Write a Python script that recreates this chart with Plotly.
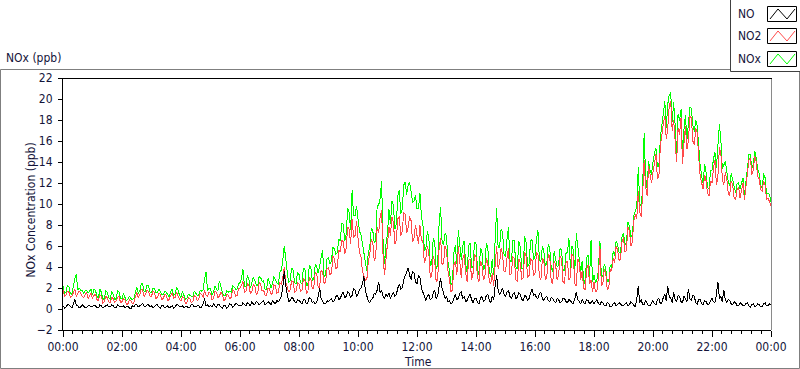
import plotly.graph_objects as go
import pandas as pd

# ---- data (3-minute samples, 00:00 .. 24:00) ----
times = pd.date_range("2000-01-01 00:00", periods=481, freq="3min")

no2 = [
 1.8,1.2,1.3,1.7,1.6,1.1,1.2,1.5,1.9,1.2,1.4,1.7,1.5,1.2,1.1,1.4,1.6,1.0,1.3,1.5,
 1.0,1.3,1.4,0.9,0.8,1.3,1.2,0.6,0.7,1.2,1.1,0.7,0.6,1.1,1.0,0.6,0.8,1.1,1.2,0.6,
 0.7,1.0,0.9,0.4,0.5,0.9,0.8,0.5,0.6,1.2,1.6,1.1,1.3,1.9,1.8,1.2,1.4,1.8,1.7,1.2,
 1.2,1.7,1.6,1.0,1.1,1.5,1.4,0.9,1.0,1.4,1.3,0.8,0.9,1.3,1.5,1.0,1.1,1.6,1.3,0.9,
 0.8,1.2,1.1,0.5,0.6,1.1,1.0,0.6,0.7,1.3,1.2,0.8,0.9,1.5,1.4,1.1,1.8,1.3,1.2,1.6,
 1.5,0.9,1.0,1.7,1.6,1.1,1.2,1.6,1.4,0.8,0.9,1.4,1.3,1.0,1.1,1.8,1.7,1.2,1.3,1.9,
 2.0,2.4,2.6,1.6,1.7,2.4,2.3,1.5,1.6,2.3,2.2,1.4,1.5,2.5,2.4,1.7,1.8,1.3,1.3,2.0,
 1.9,1.4,1.5,2.3,2.2,1.5,1.6,2.5,2.4,3.0,4.0,2.6,2.2,1.6,1.8,2.7,2.6,1.6,1.7,2.5,
 2.4,1.7,1.8,2.9,2.8,1.5,1.6,3.0,2.9,1.9,2.0,3.5,3.4,2.0,2.1,3.7,3.6,2.4,2.6,3.8,
 4.0,3.3,3.4,5.0,4.8,3.8,4.0,5.6,5.4,6.6,6.4,5.2,5.8,7.8,7.6,6.2,8.6,6.8,7.0,8.4,
 6.8,5.4,5.0,3.6,3.2,2.7,2.8,4.6,5.2,6.6,6.4,4.6,5.0,7.8,7.2,8.8,9.4,5.0,3.2,4.6,
 5.8,7.8,7.0,8.8,8.2,6.2,6.6,8.6,8.8,7.0,7.4,9.2,9.0,7.2,7.8,8.8,8.4,6.4,6.8,8.0,
 7.0,6.2,8.0,6.6,6.4,4.4,4.8,6.0,5.4,3.0,3.2,5.0,4.6,2.6,2.8,5.8,6.8,4.2,4.4,6.0,
 5.6,3.6,2.8,1.6,1.8,4.2,4.6,3.2,6.0,4.6,3.0,4.8,5.2,3.4,2.6,4.6,4.8,2.8,3.4,5.2,
 5.0,3.0,2.6,4.6,4.2,2.8,3.0,4.8,4.4,2.6,2.4,3.4,2.2,4.2,6.0,3.8,4.4,5.8,5.2,3.6,
 3.6,4.8,5.8,3.2,3.4,5.0,4.8,2.8,2.6,4.8,4.4,2.8,3.0,5.4,5.0,3.0,3.2,4.8,4.6,3.2,
 3.4,5.4,5.2,3.0,2.8,4.8,4.6,2.8,3.0,5.2,5.0,2.6,2.4,4.6,4.2,2.8,3.2,5.0,4.8,2.6,
 2.4,4.4,4.6,2.8,3.0,5.2,5.0,2.4,2.2,4.8,4.4,2.8,3.6,2.0,1.8,3.8,4.2,2.4,2.8,1.6,
 2.6,1.6,1.8,3.0,6.0,2.2,2.4,3.8,3.4,1.8,2.0,3.8,3.6,4.8,4.4,6.0,5.6,4.6,4.8,6.4,
 6.8,5.4,5.6,7.8,7.4,6.0,6.4,8.4,9.0,8.6,11.2,9.2,8.8,11.0,14.2,11.6,10.8,13.6,12.8,12.0,
 13.0,14.2,14.8,12.4,12.6,15.6,16.8,17.6,18.4,16.2,17.2,19.4,19.8,17.0,18.0,16.4,14.0,17.2,16.6,18.2,
 13.8,15.8,17.4,15.2,16.0,18.4,18.2,16.0,15.6,17.2,16.8,14.4,12.6,12.0,11.4,12.8,12.2,11.0,10.8,12.2,
 12.0,13.4,14.2,11.8,12.6,15.4,14.8,12.4,11.8,13.0,12.4,11.0,10.8,12.2,11.8,10.6,10.4,11.4,11.6,10.6,
 11.2,12.0,10.4,11.6,12.8,14.2,14.4,12.8,13.2,14.6,14.0,12.6,12.4,11.4,11.2,12.2,11.8,10.4,10.6,10.2,
 9.8]

no = [
 0.3,0.1,0.2,0.4,0.4,0.2,0.1,0.5,0.9,0.4,0.3,0.1,0.2,0.4,0.3,0.1,0.1,0.3,0.3,0.2,
 0.2,0.4,0.3,0.1,0.1,0.4,0.3,0.1,0.2,0.3,0.4,0.2,0.2,0.4,0.3,0.1,0.1,0.4,0.3,0.2,
 0.2,0.3,0.1,0.2,0.3,0.1,0.0,0.3,0.2,0.4,0.4,0.2,0.3,0.4,0.5,0.3,0.2,0.4,0.4,0.2,
 0.3,0.1,0.2,0.4,0.4,0.2,0.1,0.3,0.3,0.1,0.2,0.3,0.1,0.2,0.3,0.1,0.2,0.4,0.4,0.2,
 0.2,0.3,0.1,0.2,0.3,0.1,0.2,0.4,0.4,0.2,0.2,0.3,0.3,0.1,0.2,0.5,1.0,0.3,0.4,0.2,
 0.3,0.2,0.5,0.3,0.2,0.4,0.4,0.2,0.1,0.3,0.3,0.1,0.2,0.5,0.4,0.2,0.3,0.5,0.5,0.3,
 0.4,0.3,0.6,0.4,0.3,0.6,0.5,0.3,0.7,0.5,0.4,0.7,0.6,0.4,0.5,0.7,0.8,0.4,0.5,0.7,
 0.6,0.4,0.8,0.6,0.5,0.8,0.7,0.9,1.2,2.0,3.6,2.2,1.4,0.7,0.8,1.1,1.0,0.7,0.6,0.9,
 0.8,0.6,0.5,0.9,0.9,0.5,0.6,1.1,1.0,0.6,0.7,0.5,0.6,1.2,2.0,1.0,0.8,0.5,0.5,0.8,
 0.7,0.9,1.0,0.7,0.8,1.2,1.3,0.9,1.0,1.4,1.6,1.1,1.2,1.6,1.5,1.1,1.3,1.9,1.8,1.2,
 1.4,1.8,2.0,2.4,3.1,1.8,1.2,0.7,0.6,0.9,1.0,1.5,1.4,1.8,2.6,1.5,1.8,1.2,1.0,1.4,
 1.2,1.5,1.0,1.3,1.6,1.2,1.4,2.0,2.4,1.9,2.0,2.8,3.2,3.6,3.9,3.2,2.8,3.6,3.4,2.6,
 2.4,3.2,3.0,2.0,1.6,1.0,0.8,1.2,1.4,0.9,1.0,1.5,1.8,1.0,1.2,2.2,2.9,2.0,1.6,1.0,
 1.2,0.7,0.8,0.5,0.6,1.0,1.4,0.9,1.0,1.5,1.6,1.0,1.2,0.7,0.8,1.2,1.4,0.9,0.6,1.0,
 1.0,0.6,0.5,1.0,1.2,0.7,0.8,1.3,1.4,0.8,0.6,1.2,0.9,2.2,3.2,1.8,1.4,1.6,2.0,1.4,
 1.2,1.6,1.8,1.2,1.0,1.4,1.6,1.0,1.1,1.5,1.4,0.9,0.8,1.3,1.2,0.8,1.0,1.5,1.9,1.3,
 1.4,1.1,1.0,1.5,1.6,1.0,0.8,1.1,1.2,0.8,0.7,1.1,1.0,0.7,0.6,1.0,0.9,0.6,0.7,1.0,
 1.0,0.7,0.6,0.9,0.8,0.6,0.5,1.0,1.6,0.9,0.7,0.5,0.9,0.6,0.5,0.9,0.8,0.5,0.6,0.8,
 0.5,0.7,0.9,0.5,0.4,0.7,0.6,0.3,0.3,0.6,0.5,0.2,0.2,0.5,0.6,0.3,0.4,0.6,0.5,0.3,
 0.3,0.5,0.6,0.3,0.4,0.7,0.5,0.3,0.2,0.9,2.2,0.6,0.9,0.4,0.4,0.8,0.6,0.3,0.3,0.6,
 0.8,0.5,0.4,0.9,1.0,0.5,0.6,1.1,1.4,0.8,2.2,1.2,1.0,0.6,1.6,0.9,0.7,1.3,1.2,0.7,
 0.6,1.2,1.0,0.7,1.9,1.0,0.8,1.3,1.2,0.6,0.5,0.9,0.9,0.5,0.4,0.8,0.7,0.4,0.5,0.8,
 1.0,0.7,0.6,1.4,2.6,1.0,1.2,0.7,1.8,0.9,0.6,0.9,0.8,0.5,0.4,0.7,0.6,0.3,0.3,0.6,
 0.5,0.3,0.3,0.5,0.6,0.3,0.2,0.4,0.5,0.2,0.3,0.5,0.4,0.2,0.2,0.5,0.6,0.3,0.3,0.5,
 0.4]

nox = [
 2.2,1.5,1.6,2.3,2.1,1.5,1.4,2.2,2.9,3.3,1.8,2.0,1.8,1.8,1.5,1.7,1.8,1.5,1.7,1.9,
 1.3,1.9,1.8,1.2,1.0,1.9,1.6,0.9,1.0,1.7,1.6,1.1,0.9,1.7,1.4,0.9,1.0,1.7,1.6,1.0,
 1.0,1.5,1.1,0.8,0.9,1.2,1.0,0.9,1.0,1.7,2.1,1.5,1.7,2.4,2.4,1.7,1.7,2.3,2.2,1.6,
 1.6,2.0,1.9,1.6,1.6,1.9,1.6,1.4,1.4,1.7,1.6,1.3,1.1,1.7,1.9,1.3,1.4,2.1,1.8,1.3,
 1.1,1.7,1.3,0.9,1.0,1.4,1.3,1.2,1.2,1.7,1.5,1.3,1.3,1.8,1.7,1.8,2.9,3.5,1.7,2.0,
 1.9,1.3,1.6,2.2,1.9,1.7,2.7,2.0,1.6,1.3,1.3,1.7,1.6,1.7,1.6,2.2,2.1,1.9,1.9,2.4,
 2.5,2.9,3.8,2.2,2.1,3.2,2.9,2.0,2.4,3.0,2.7,2.3,2.2,3.1,3.0,2.6,2.7,1.9,1.9,2.9,
 2.6,2.0,2.4,3.1,2.8,2.5,2.4,3.5,3.7,4.6,6.0,4.4,3.6,2.5,2.7,3.9,3.7,2.5,2.4,3.5,
 3.3,2.5,2.4,3.9,3.8,2.2,2.3,4.2,4.0,2.7,2.8,4.2,4.1,3.4,4.2,4.8,5.6,3.1,3.2,4.8,
 4.9,4.3,4.6,5.9,5.7,5.2,5.4,6.7,6.5,8.2,8.1,6.5,7.1,9.6,9.2,7.5,11.3,8.9,8.9,9.8,
 8.4,7.4,7.1,6.1,5.4,4.2,3.6,5.4,5.9,7.7,7.5,6.3,6.5,9.8,9.9,10.5,12.2,6.4,4.3,6.2,
 7.2,9.5,8.1,10.3,9.9,7.6,8.1,10.8,11.3,9.1,9.5,11.8,12.1,10.9,11.8,12.1,11.3,10.2,10.3,10.8,
 9.5,9.6,11.0,8.8,8.1,5.6,5.7,7.4,6.9,4.1,4.3,6.7,6.5,3.8,4.1,8.2,9.7,6.4,6.1,7.2,
 7.0,4.5,3.7,2.3,2.5,5.4,6.1,4.3,7.5,6.3,4.7,6.0,6.5,4.3,3.5,6.0,6.3,3.9,4.1,6.4,
 6.2,3.8,3.2,5.8,5.5,3.7,3.9,6.3,5.9,3.6,3.1,4.8,3.2,6.6,9.6,5.8,5.9,7.6,7.3,5.2,
 5.0,6.6,7.8,4.6,4.5,6.6,6.5,4.0,3.8,6.5,5.9,3.9,3.9,6.9,6.3,4.0,4.3,6.5,6.6,4.7,
 5.0,6.7,7.5,4.7,4.5,6.0,5.5,4.1,4.3,6.2,5.8,3.9,3.5,5.5,4.9,4.0,4.2,5.8,5.6,3.8,
 3.6,5.3,5.4,6.8,3.9,6.0,5.6,3.6,7.2,5.9,5.2,3.5,4.6,2.8,2.4,4.9,5.1,3.1,6.6,2.6,
 3.2,2.5,2.8,3.7,6.5,3.1,3.1,4.3,3.8,2.6,2.6,4.2,3.9,5.5,5.1,6.5,6.1,5.4,5.4,6.9,
 7.2,6.1,6.3,8.3,7.9,6.9,7.0,8.9,9.3,9.7,13.5,10.0,9.8,11.6,16.8,12.6,11.5,14.1,13.2,12.8,
 14.0,14.9,15.3,13.5,13.7,16.3,17.5,18.8,19.8,17.2,19.5,20.4,20.6,17.8,19.7,17.5,14.9,18.6,17.9,19.0,
 14.6,17.1,18.5,16.1,18.0,19.2,19.1,17.5,16.9,18.0,17.4,15.5,13.6,12.7,11.9,13.8,13.0,11.6,11.4,13.2,
 13.2,14.3,14.9,13.4,15.3,17.6,16.1,13.3,13.7,14.1,13.1,12.1,11.7,12.9,12.3,11.5,11.1,11.9,12.0,11.4,
 11.9,12.5,10.8,12.3,13.5,14.7,14.7,13.4,13.8,15.0,14.4,13.3,12.9,11.8,11.5,12.9,12.5,10.9,11.0,10.9,
 10.2]

series_names = ["NO", "NO2", "NOx"]
series_colors = ["#000000", "#ff4a4a", "#00ff00"]

FONT = "DejaVu Sans Condensed, Noto Sans, sans-serif"
TXT = "#14143a"

fig = go.Figure()
fig.add_trace(go.Scatter(x=times, y=nox, mode="lines", name="NOx",
                         line=dict(color=series_colors[2], width=1)))
fig.add_trace(go.Scatter(x=times, y=no2, mode="lines", name="NO2",
                         line=dict(color=series_colors[1], width=1)))
fig.add_trace(go.Scatter(x=times, y=no, mode="lines", name="NO",
                         line=dict(color=series_colors[0], width=1)))

W, H = 800, 369
L, R, T, B = 63, 29, 78, 39
PW, PH = W - L - R, H - T - B

def px(p):
    return (p - L) / PW

def py(q):
    return (H - B - q) / PH

shapes = []
# outer gray frame
shapes.append(dict(type="rect", xref="paper", yref="paper",
                   x0=px(0.5), x1=px(799.5), y0=py(368.5), y1=py(69.5),
                   line=dict(color="#7f7f7f", width=1), layer="below"))
# plot frame: right side gray
shapes.append(dict(type="line", xref="paper", yref="paper",
                   x0=px(771.5), x1=px(771.5), y0=py(330), y1=py(78),
                   line=dict(color="#8a8a8a", width=1)))
# legend box
shapes.append(dict(type="rect", xref="paper", yref="paper",
                   x0=px(730.5), x1=px(800.5), y0=py(71.5), y1=py(-1),
                   line=dict(color="#404040", width=1), fillcolor="white"))
annotations = []
legend_y = [14, 36, 59]
for name, col, yc in zip(series_names, series_colors, legend_y):
    shapes.append(dict(type="rect", xref="paper", yref="paper",
                       x0=px(767.5), x1=px(796.5), y0=py(yc + 7.5), y1=py(yc - 7.5),
                       line=dict(color="#000000", width=1), fillcolor="white"))
    pts = [(770, yc + 5), (778, yc - 5), (787, yc + 5), (795, yc - 5)]
    path = "M " + " L ".join(f"{px(a):.5f},{py(b):.5f}" for a, b in pts)
    shapes.append(dict(type="path", xref="paper", yref="paper", path=path,
                       line=dict(color=col, width=1)))
    annotations.append(dict(text=name, xref="paper", yref="paper",
                            x=px(736), y=py(yc), xanchor="left", yanchor="middle",
                            showarrow=False, font=dict(family=FONT, size=12, color=TXT)))

annotations.append(dict(text="NOx (ppb)", xref="paper", yref="paper",
                        x=px(4), y=py(58), xanchor="left", yanchor="middle",
                        showarrow=False, font=dict(family=FONT, size=12, color=TXT)))
annotations.append(dict(text="NOx Concentration (ppb)", xref="paper", yref="paper",
                        x=px(30.5), y=py(210), xanchor="center", yanchor="middle",
                        textangle=-90, showarrow=False,
                        font=dict(family=FONT, size=12, color=TXT)))
annotations.append(dict(text="Time", xref="paper", yref="paper",
                        x=px(418), y=py(362), xanchor="center", yanchor="middle",
                        showarrow=False, font=dict(family=FONT, size=12, color=TXT)))

fig.update_layout(
    width=W, height=H,
    margin=dict(l=L, r=R, t=T, b=B, pad=0),
    paper_bgcolor="white", plot_bgcolor="white",
    showlegend=False,
    font=dict(family=FONT, size=11, color=TXT),
    shapes=shapes, annotations=annotations,
    xaxis=dict(
        type="date",
        range=["2000-01-01 00:00", "2000-01-02 00:00"],
        tickformat="%H:%M", dtick=2 * 3600 * 1000,
        tick0="2000-01-01 00:00",
        ticks="outside", ticklen=6, tickcolor="#000000",
        minor=dict(dtick=20 * 60 * 1000, ticks="outside", ticklen=3, tickcolor="#000000"),
        showgrid=False, zeroline=False,
        showline=True, linecolor="#000000", linewidth=1, mirror=False,
        ticklabelstandoff=0,
        tickfont=dict(family=FONT, size=12, color=TXT),
    ),
    yaxis=dict(
        range=[-2, 22], dtick=2, tick0=0,
        ticks="outside", ticklen=4, tickcolor="#000000",
        showgrid=False, zeroline=False,
        showline=True, linecolor="#000000", linewidth=1, mirror=False,
        ticklabelstandoff=3,
        tickfont=dict(family=FONT, size=12, color=TXT),
    ),
)
# top frame line in black
fig.add_shape(type="line", xref="paper", yref="paper", x0=px(62), x1=px(772),
              y0=py(78.5), y1=py(78.5), line=dict(color="#000000", width=1))

fig.write_html("out.html",
               config={"displayModeBar": False},
               post_script="document.body.style.margin='0';document.body.style.padding='0';"
                           "document.documentElement.style.overflow='hidden';"
                           "document.querySelectorAll('.scatterlayer path.js-line')"
                           ".forEach(function(p){p.style.shapeRendering='crispEdges';});")
